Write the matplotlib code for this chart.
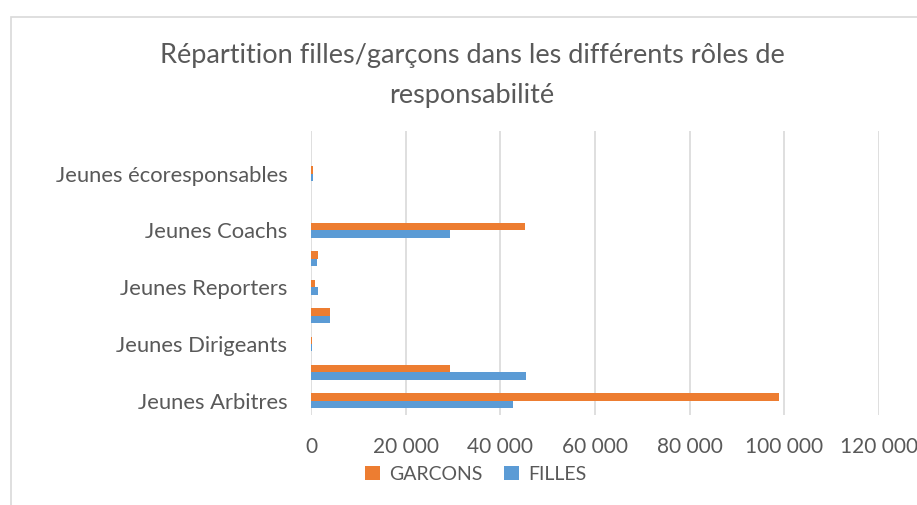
import matplotlib
matplotlib.use("Agg")
import matplotlib.pyplot as plt
from matplotlib.patches import Rectangle
import numpy as np

categories = ["Jeunes Arbitres", "", "Jeunes Dirigeants", "", "Jeunes Reporters",
              "", "Jeunes Coachs", "", "Jeunes écoresponsables", ""]
garcons = [98800, 29300, 150, 4100, 850, 1400, 45200, 0, 450, 0]
filles = [42600, 45400, 200, 4000, 1400, 1300, 29300, 0, 400, 0]
xticks = [0, 20000, 40000, 60000, 80000, 100000, 120000]
xticklabels = ["0", "20 000", "40 000", "60 000", "80 000", "100 000", "120 000"]

ORANGE = "#ED7D31"
BLUE = "#5B9BD5"
TXT = "#595959"
GRID = "#D9D9D9"
FONT = "Lato"

W, H = 917, 505
fig = plt.figure(figsize=(W / 100, H / 100), dpi=100)
fig.patch.set_facecolor("white")

# chart border
fig.patches.append(Rectangle((10.5 / W, -0.1), 1.2, 1 - 16.5 / H + 0.1,
                             transform=fig.transFigure, fill=False,
                             edgecolor=GRID, linewidth=1.2))

ax = fig.add_axes([311 / W, 1 - 415 / H, (879 - 311) / W, (415 - 131) / H])
y = np.arange(len(categories))
h = 0.26
ax.barh(y + h / 2, garcons, height=h, color=ORANGE, label="GARCONS")
ax.barh(y - h / 2, filles, height=h, color=BLUE, label="FILLES")

ax.set_xlim(0, 120000)
ax.set_ylim(-0.5, len(categories) - 0.5)
ax.set_xticks(xticks)
ax.set_xticklabels(xticklabels, fontsize=15, color=TXT, family=FONT)
ax.set_yticks(y)
ax.set_yticklabels(categories, fontsize=15.8, color=TXT, family=FONT)
ax.tick_params(length=0, pad=16, axis="x")
ax.tick_params(length=0, pad=17, axis="y")
ax.grid(axis="x", color=GRID, linewidth=1.2)
ax.set_axisbelow(True)
for s in ax.spines.values():
    s.set_visible(False)

fig.text(472 / W, 1 - 63 / H, "Répartition filles/garçons dans les différents rôles de",
         ha="center", va="baseline", fontsize=19.5, color=TXT, family=FONT)
fig.text(472 / W, 1 - 103 / H, "responsabilité",
         ha="center", va="baseline", fontsize=19.5, color=TXT, family=FONT)

leg = fig.legend(handles=ax.patches[:1] + ax.patches[len(categories):len(categories) + 1],
                 labels=["GARCONS", "FILLES"], loc="center", bbox_to_anchor=(476 / W, 1 - 474 / H),
                 ncol=2, frameon=False, handlelength=0.75, handleheight=0.75,
                 handletextpad=0.5, columnspacing=1.1,
                 prop={"family": FONT, "size": 14})
for t in leg.get_texts():
    t.set_color(TXT)

fig.savefig("out.png", dpi=100)
